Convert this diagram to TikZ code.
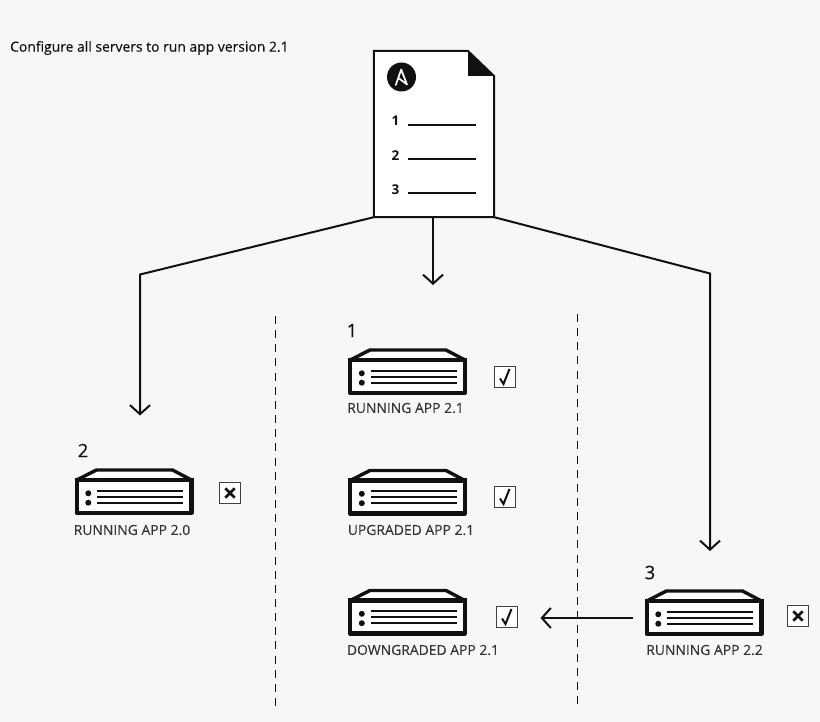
\documentclass[tikz,border=0pt]{standalone}
\usepackage{fontspec}
\setmainfont{Open Sans}[FakeBold=0.15]
\newfontfamily\docfont{Open Sans}
\usetikzlibrary{arrows.meta}
\definecolor{bgc}{HTML}{F7F7F7}
\definecolor{ink}{HTML}{111111}
\tikzset{
  conn/.style={draw=ink,line width=2pt,line join=miter},
  arrowed/.style={conn,-{Straight Barb[length=9pt,width=20pt,line width=2pt]}},
  divider/.style={draw=ink,line width=0.9pt,dash pattern=on 8pt off 6.15pt},
  srv/.style={minimum width=118pt,minimum height=47pt,inner sep=0pt},
  lbl/.style={font=\fontsize{13.9}{15}\selectfont,text=ink!85,inner sep=0pt},
  num/.style={font=\fontsize{18.5}{20}\selectfont,text=ink,inner sep=0pt},
  docnum/.style={font=\docfont\fontsize{13.5}{15}\selectfont\bfseries,text=ink,inner sep=0pt},
  boxmark/.style={draw=ink!80,line width=1pt,fill=white,minimum size=21pt,inner sep=0pt},
  rule/.style={draw=ink,line width=1.1pt},
  server/.pic={
    \draw[ink,line width=4.2pt,line join=round,fill=white]
      (-57.4,-11) rectangle (57.4,22);
    \draw[ink,line width=3.4pt,line join=round,fill=white]
      (-57.4,-11) -- (-37.5,-21) -- (38.5,-21) -- (57.4,-11) -- cycle;
    \draw[ink,line width=4.4pt] (-59.5,-11) -- (59.5,-11);
    \fill[ink] (-45.7,2.3) circle (3pt) (-45.7,11.7) circle (3pt);
    \draw[ink,line width=2pt] (-37,-0.3) -- (49,-0.3) (-37,5.7) -- (49,5.7) (-37,11.7) -- (49,11.7);
  },
  okmark/.pic={\draw[ink,line width=2pt,line join=miter] (-5,1.5) -- (-1.5,7) -- (4.5,-8);},
  badmark/.pic={\draw[ink,line width=2.6pt] (-4.7,-4.7) -- (4.7,4.7) (-4.7,4.7) -- (4.7,-4.7);}
}
\begin{document}
\begin{tikzpicture}[x=1pt,y=-1pt]
\fill[bgc] (0,0) rectangle (820,722);
\useasboundingbox (0,0) rectangle (820,722);

\node[anchor=west,inner sep=0pt,font=\fontsize{13.9}{15}\selectfont,text=ink] (title) at (10,48) {Configure all servers to run app version 2.1};

% dividers
\coordinate (d1a) at (275,316); \coordinate (d1b) at (275,706);
\coordinate (d2a) at (577,314); \coordinate (d2b) at (577,706);
\path[divider] (d1a) -- (d1b);
\path[divider] (d2a) -- (d2b);

% playbook document
\node[minimum width=120pt,minimum height=166pt,inner sep=0pt] (doc) at (434,134) {};
\draw[ink,line width=2pt,fill=white,line join=miter]
  (doc.north west) -- (468,51) -- (494,76) -- (doc.south east) -- (doc.south west) -- cycle;
\fill[ink] (468,51) -- (494,76) -- (468,76) -- cycle;
\node[circle,fill=ink,minimum size=29pt,inner sep=0pt] (logo) at (401.5,77) {};
\draw[white,line width=1.7pt,line join=round,line cap=round]
  (395.8,85) -- (401.2,69.5) -- (407,84.5) -- (399,78.5);
\node[docnum] (n1) at (395.5,121) {1};
\node[docnum] (n2) at (395.5,155.5) {2};
\node[docnum] (n3) at (395.5,189.5) {3};
\draw[rule] (408,125) -- (476,125);
\draw[rule] (408,159) -- (476,159);
\draw[rule] (408,193) -- (476,193);

% servers
\node[srv] (s1) at (407.5,371) {}; \pic at (s1) {server};
\node[srv] (s2) at (134,491) {}; \pic at (s2) {server};
\node[srv] (s4) at (407.5,491.5) {}; \pic at (s4) {server};
\node[srv] (s5) at (407.5,611.5) {}; \pic at (s5) {server};
\node[srv] (s3) at (704,612) {}; \pic at (s3) {server};

\node[lbl] (l1) at (405.5,408) {RUNNING APP 2.1};
\node[lbl] (l2) at (132,530) {RUNNING APP 2.0};
\node[lbl] (l4) at (411,530) {UPGRADED APP 2.1};
\node[lbl] (l5) at (423,650) {DOWNGRADED APP 2.1};
\node[lbl] (l3) at (704.5,650) {RUNNING APP 2.2};

\node[num] (a1) at (352,330.5) {1};
\node[num] (a2) at (83,450.5) {2};
\node[num] (a3) at (650,572.5) {3};

% marks
\node[boxmark] (b1) at (505,377) {}; \pic at (b1) {okmark};
\node[boxmark] (b4) at (505,497) {}; \pic at (b4) {okmark};
\node[boxmark] (b5) at (507,617) {}; \pic at (b5) {okmark};
\node[boxmark] (b2) at (230,493) {}; \pic at (b2) {badmark};
\node[boxmark] (b3) at (798,616) {}; \pic at (b3) {badmark};

% connectors
\coordinate (e2) at (140,274.5); \coordinate (t2) at (140,415.5);
\coordinate (t1) at (433,285); \coordinate (f1) at (433,217);
\coordinate (e3) at (710,273.5); \coordinate (t3) at (710,551);
\coordinate (h1) at (633,618); \coordinate (h2) at (540.5,618);
\draw[arrowed] (doc.south west) -- (e2) -- (t2);
\draw[arrowed] (f1) -- (t1);
\draw[arrowed] (doc.south east) -- (e3) -- (t3);
\draw[arrowed] (h1) -- (h2);
\end{tikzpicture}
\end{document}
